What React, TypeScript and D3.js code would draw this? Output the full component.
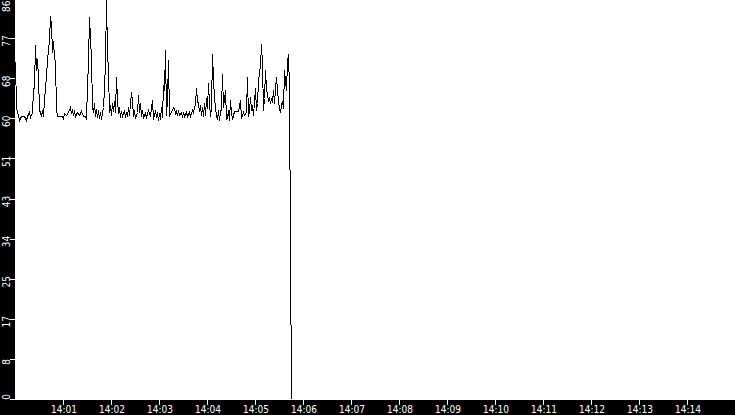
import { useMemo } from "react";
import * as d3 from "d3";

const WIDTH = 735;
const HEIGHT = 415;
const AXIS_LEFT = 15;
const AXIS_BOTTOM = 15;
const FONT = "'DejaVu Sans Condensed', 'DejaVu Sans', sans-serif";

// time window of the chart
const startTime = "14:00:00";
const endTime = "14:15:00";

// y axis: 10 equal steps up to the max, labels as printed
const yMax = 85.6;
const yTickLabels = ["0", "8", "17", "25", "34", "43", "51", "60", "68", "77", "86"];

const xTickLabels = [
  "14:01", "14:02", "14:03", "14:04", "14:05", "14:06", "14:07",
  "14:08", "14:09", "14:10", "14:11", "14:12", "14:13", "14:14",
];

// seconds after startTime
const sampleSeconds = [
  0, 1.25, 2.5, 3.75, 5, 7.5, 11.25, 13.75, 15, 17.5, 18.75, 21.25, 22.5, 23.75,
  25, 26.25, 27.5, 28.75, 30, 31.25, 32.5, 33.75, 35, 36.25, 37.5, 38.75, 40,
  42.5, 43.75, 45, 46.25, 47.5, 48.75, 50, 51.25, 52.5, 58.75, 60, 61.25, 63.75,
  66.25, 68.75, 70, 71.25, 72.5, 73.75, 75, 77.5, 80, 82.5, 85, 87.5, 88.75, 90,
  91.25, 92.5, 93.75, 95, 96.25, 97.5, 98.75, 100, 101.25, 102.5, 103.75, 105,
  106.25, 107.5, 110, 111.25, 112.5, 113.75, 115, 116.25, 117.5, 118.75, 120,
  121.25, 122.5, 123.75, 125, 126.25, 127.5, 128.75, 130, 131.25, 132.5, 133.75,
  136.25, 137.5, 138.75, 140, 141.25, 142.5, 145, 146.25, 147.5, 148.75, 150,
  152.5, 153.75, 155, 156.25, 157.5, 158.75, 160, 162.5, 163.75, 166.25, 168.75,
  171.25, 172.5, 175, 176.25, 177.5, 178.75, 180, 181.25, 182.5, 183.75, 185,
  186.25, 187.5, 188.75, 190, 191.25, 192.5, 193.75, 196.25, 197.5, 198.75, 200,
  201.25, 202.5, 203.75, 205, 207.5, 208.75, 210, 211.25, 213.75, 215, 217.5,
  218.75, 221.25, 222.5, 225, 226.25, 227.5, 228.75, 230, 231.25, 232.5, 233.75,
  235, 236.25, 237.5, 238.75, 240, 241.25, 242.5, 243.75, 245, 246.25, 247.5,
  248.75, 250, 251.25, 252.5, 253.75, 255, 256.25, 257.5, 258.75, 260, 262.5,
  263.75, 265, 266.25, 267.5, 268.75, 270, 271.25, 272.5, 273.75, 276.25, 278.75,
  281.25, 282.5, 283.75, 285, 286.25, 288.75, 290, 291.25, 292.5, 293.75, 295,
  296.25, 297.5, 300, 301.25, 302.5, 303.75, 305, 306.25, 307.5, 308.75, 310,
  311.25, 312.5, 313.75, 315, 316.25, 317.5, 318.75, 320, 321.25, 322.5, 323.75,
  325, 326.25, 327.5, 328.75, 330, 331.25, 332.5, 333.75, 335, 336.25, 337.5,
  338.75, 340, 341.25, 342.5, 343.75, 345,
];

const loadValues = [
  72, 62.4, 61.3, 60.7, 59.6, 60.4, 60.4, 59.6, 60.4, 61.3, 60.2, 61.3, 66.0, 66.8,
  75.5, 70.3, 72.5, 68.5, 62.0, 61.1, 60.4, 61.7, 60.4, 63.8, 66.4, 69.0, 72.4,
  76.7, 81.8, 80.0, 74.0, 76.5, 73.0, 72.0, 62.0, 60.4, 60.4, 59.8, 61.1, 60.7,
  61.3, 62.4, 61.0, 61.7, 60.7, 61.7, 60.4, 61.3, 60.7, 61.5, 60.4, 60.4, 59.8, 66.8,
  72.0, 81.5, 77.0, 72.7, 62.4, 61.3, 63.2, 60.4, 62.0, 60.2, 61.7, 60.0,
  61.3, 59.8, 62.4, 66.4, 72.0, 85.2, 74.0, 70.0, 61.3, 62.8, 60.7,
  63.2, 61.5, 63.6, 61.3, 68.7, 63.8, 61.1, 62.4, 60.2, 61.5, 60.4,
  61.7, 60.2, 61.3, 60.4, 62.4, 60.7, 65.5, 63.8, 60.4, 61.7, 60.0,
  61.3, 64.9, 61.3, 63.2, 60.4, 61.7, 60.2, 61.1, 60.2, 61.7, 60.4,
  63.8, 59.8, 61.7, 60.2, 61.3, 59.6, 61.1, 59.8, 62.4, 60.2, 67.0,
  66.0, 74.4, 60.6, 64.0, 72.4, 60.4, 61.1, 61.7, 62.4, 62.1, 61.1,
  61.5, 60.7, 61.7, 60.7, 61.3, 60.2, 61.3, 60.4, 61.3, 60.4, 61.3,
  60.4, 61.7, 61.3, 63.2, 66.4, 63.6, 63.2, 61.5, 62.8, 60.7, 62.4,
  60.4, 63.2, 60.7, 64.2, 62.1, 67.5, 63.2, 60.4, 62.4, 73.7, 68.5,
  64.2, 62.4, 60.7, 59.8, 61.7, 59.6, 61.3, 62.1, 69.4, 62.4, 66.0,
  59.8, 60.2, 61.7, 59.6, 63.8, 61.3, 59.8, 60.7, 61.5, 61.5, 61.5,
  63.8, 60.0, 60.7, 61.3, 60.7, 61.3, 68.7, 60.4, 61.5, 64.5, 61.7,
  62.8, 60.7, 66.4, 61.7, 63.2, 68.1, 69.6, 71.3, 75.8, 71.3, 61.7,
  64.2, 70.3, 66.4, 64.9, 63.8, 64.2, 63.2, 64.2, 63.4, 66.0, 63.2,
  66.4, 68.7, 66.0, 63.8, 62.1, 61.3, 62.8, 63.6, 62.1, 70.3, 68.0,
  66.0, 72.0, 73.7, 66.4, 32.2, 0,
];

const parseClock = d3.timeParse("%H:%M:%S");
const parseTick = d3.timeParse("%H:%M");

export default function App() {
  const plotBottom = HEIGHT - AXIS_BOTTOM;
  const t0 = parseClock(startTime)!;
  const t1 = parseClock(endTime)!;

  const x = useMemo(
    () => d3.scaleTime().domain([t0, t1]).range([AXIS_LEFT, WIDTH]),
    []
  );
  const y = useMemo(
    () => d3.scaleLinear().domain([0, yMax]).range([plotBottom - 1, -2]),
    []
  );

  const points = sampleSeconds.map((s, i) => ({
    t: new Date(t0.getTime() + s * 1000),
    v: loadValues[i],
  }));

  const path = d3
    .line<{ t: Date; v: number }>()
    .x((d) => Math.round(x(d.t)) + 0.5)
    .y((d) => Math.round(y(d.v)) + 0.5)(points);

  const yTicks = yTickLabels.map((label, i) => {
    const ty = y((i * yMax) / (yTickLabels.length - 1));
    // labels sit a little below their tick, kept inside the strip
    const half = label.length * 3.1;
    const cy = Math.min(plotBottom - half, Math.max(half, ty + 3));
    return { label, ty, cy };
  });

  return (
    <>
      <style>{`body{margin:0}`}</style>
      <svg width={WIDTH} height={HEIGHT} style={{ display: "block" }}>
        <rect width={WIDTH} height={HEIGHT} fill="#fff" />
        <path
          d={path ?? ""}
          fill="none"
          stroke="#000"
          strokeWidth={1}
          shapeRendering="crispEdges"
        />

        {/* left axis strip */}
        <rect x={0} y={0} width={AXIS_LEFT} height={HEIGHT} fill="#000" />
        {yTicks.map((d, i) => (
          <g key={i}>
            <line
              x1={10}
              x2={AXIS_LEFT}
              y1={Math.round(d.ty) + 0.5}
              y2={Math.round(d.ty) + 0.5}
              stroke="#fff"
              shapeRendering="crispEdges"
            />
            <text
              transform={`translate(9.5,${d.cy}) rotate(-90)`}
              textAnchor="middle"
              fill="#fff"
              style={{ fontFamily: FONT, fontSize: 10 }}
            >
              {d.label}
            </text>
          </g>
        ))}

        {/* bottom axis strip */}
        <rect x={0} y={plotBottom} width={WIDTH} height={AXIS_BOTTOM} fill="#000" />
        {xTickLabels.map((label) => {
          const tx = Math.round(x(parseTick(label)!));
          return (
            <g key={label}>
              <line
                x1={tx + 0.5}
                x2={tx + 0.5}
                y1={plotBottom}
                y2={plotBottom + 5}
                stroke="#fff"
                shapeRendering="crispEdges"
              />
              <text
                x={tx + 1}
                y={HEIGHT - 2}
                textAnchor="middle"
                fill="#fff"
                style={{ fontFamily: FONT, fontSize: 10 }}
              >
                {label}
              </text>
            </g>
          );
        })}
      </svg>
    </>
  );
}
